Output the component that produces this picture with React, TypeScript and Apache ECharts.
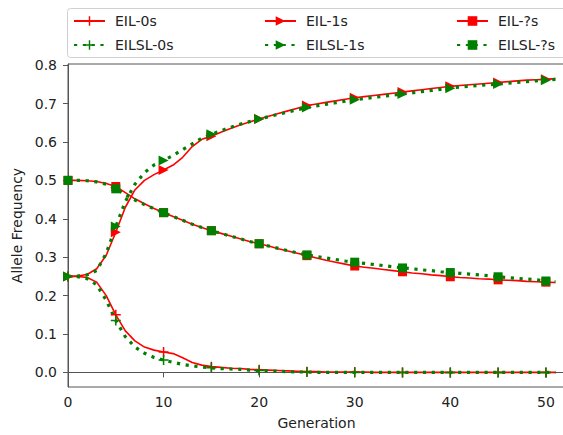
import React, { useEffect, useRef } from "react";
import * as echarts from "echarts";

const generations: number[] = Array.from({ length: 52 }, (_, i) => i);

const eil0s: number[] = [
  0.250, 0.250, 0.247, 0.235, 0.200, 0.150, 0.108, 0.082, 0.066, 0.058,
  0.053, 0.049, 0.038, 0.026, 0.019, 0.015, 0.013, 0.011, 0.010, 0.008,
  0.007, 0.006, 0.005, 0.004, 0.003, 0.002, 0.002, 0.001, 0.001, 0.001,
  0.001, 0.001, 0.000, 0.000, 0.000, 0.000, 0.000, 0.000, 0.000, 0.000,
  0.000, 0.000, 0.000, 0.000, 0.000, 0.000, 0.000, 0.000, 0.000, 0.000,
  0.000, 0.000,
];
const eilsl0s: number[] = [
  0.250, 0.249, 0.244, 0.228, 0.188, 0.135, 0.093, 0.066, 0.050, 0.039,
  0.032, 0.026, 0.021, 0.017, 0.014, 0.012, 0.010, 0.009, 0.008, 0.006,
  0.005, 0.004, 0.003, 0.002, 0.001, 0.001, 0.000, 0.000, 0.000, 0.000,
  0.000, 0.000, 0.000, 0.000, 0.000, 0.000, 0.000, 0.000, 0.000, 0.000,
  0.000, 0.000, 0.000, 0.000, 0.000, 0.000, 0.000, 0.000, 0.000, 0.000,
  0.000, 0.000,
];
const eil1s: number[] = [
  0.250, 0.251, 0.255, 0.270, 0.305, 0.365, 0.430, 0.475, 0.500, 0.515,
  0.527, 0.540, 0.560, 0.588, 0.607, 0.615, 0.625, 0.635, 0.644, 0.652,
  0.660, 0.667, 0.674, 0.681, 0.688, 0.695, 0.699, 0.703, 0.707, 0.711,
  0.715, 0.718, 0.721, 0.724, 0.727, 0.730, 0.733, 0.736, 0.739, 0.742,
  0.745, 0.747, 0.749, 0.751, 0.753, 0.755, 0.757, 0.759, 0.761, 0.762,
  0.763, 0.765,
];
const eilsl1s: number[] = [
  0.250, 0.251, 0.254, 0.265, 0.310, 0.380, 0.445, 0.490, 0.520, 0.540,
  0.552, 0.565, 0.580, 0.595, 0.610, 0.620, 0.629, 0.638, 0.646, 0.653,
  0.660, 0.666, 0.672, 0.678, 0.684, 0.690, 0.694, 0.698, 0.702, 0.706,
  0.710, 0.713, 0.716, 0.719, 0.722, 0.725, 0.728, 0.731, 0.734, 0.737,
  0.740, 0.743, 0.745, 0.747, 0.749, 0.751, 0.753, 0.755, 0.757, 0.759,
  0.761, 0.763,
];
const eilQs: number[] = [
  0.500, 0.500, 0.499, 0.497, 0.492, 0.484, 0.468, 0.452, 0.439, 0.427,
  0.416, 0.406, 0.396, 0.386, 0.377, 0.369, 0.362, 0.355, 0.348, 0.341,
  0.335, 0.329, 0.322, 0.316, 0.310, 0.304, 0.298, 0.292, 0.287, 0.282,
  0.277, 0.274, 0.271, 0.268, 0.265, 0.262, 0.259, 0.257, 0.254, 0.252,
  0.249, 0.247, 0.246, 0.244, 0.243, 0.241, 0.240, 0.239, 0.237, 0.236,
  0.235, 0.234,
];
const eilslQs: number[] = [
  0.500, 0.500, 0.499, 0.496, 0.490, 0.478, 0.463, 0.449, 0.437, 0.426,
  0.416, 0.406, 0.396, 0.386, 0.377, 0.369, 0.362, 0.355, 0.348, 0.341,
  0.335, 0.329, 0.323, 0.317, 0.311, 0.306, 0.302, 0.298, 0.294, 0.290,
  0.287, 0.284, 0.281, 0.278, 0.275, 0.272, 0.270, 0.267, 0.265, 0.262,
  0.260, 0.258, 0.256, 0.254, 0.252, 0.249, 0.247, 0.245, 0.243, 0.241,
  0.238, 0.236,
];

const yTicks: number[] = [0, 0.1, 0.2, 0.3, 0.4, 0.5, 0.6, 0.7, 0.8];
const xTicks: number[] = [0, 10, 20, 30, 40, 50];

const FONT = "DejaVu Sans";
const PLUS = "path://M4.25,0H5.75V4.25H10V5.75H5.75V10H4.25V5.75H0V4.25H4.25Z";

function mk(values: number[]) {
  return values.map((v, i) =>
    i % 5 === 0 ? [generations[i], v] : { value: [generations[i], v], symbol: "none" }
  );
}

function series(name: string, values: number[], green: boolean, symbol: string, size: number, rotate = 0) {
  const color = green ? "#008000" : "#ff0000";
  return {
    name,
    type: "line",
    data: mk(values),
    symbol,
    symbolSize: size,
    symbolRotate: rotate,
    showAllSymbol: true,
    smooth: false,
    itemStyle: { color },
    lineStyle: green
      ? { color, width: 3.2, type: [3.2, 5.6] }
      : { color, width: 1.6 },
    emphasis: { disabled: true },
  };
}

export default function App() {
  const ref = useRef<HTMLDivElement>(null);
  useEffect(() => {
    const chart = echarts.init(ref.current!, null, { renderer: "svg" });
    const legendBase = {
      orient: "vertical",
      top: 14,
      itemWidth: 31,
      itemHeight: 12,
      itemGap: 10,
      padding: 0,
      textStyle: { fontFamily: FONT, fontSize: 14, color: "#222", padding: [0, 0, 0, 5] },
      selectedMode: false,
    };
    chart.setOption({
      animation: false,
      backgroundColor: "#fff",
      textStyle: { fontFamily: FONT },
      grid: {
        left: 68,
        top: 64,
        right: -2,
        bottom: 48,
        show: true,
        borderColor: "#555",
        borderWidth: 1,
        containLabel: false,
        outerBoundsMode: "none",
      },
      legend: [
        { ...legendBase, left: 73, data: ["EIL-0s", "EILSL-0s"] },
        { ...legendBase, left: 264, data: ["EIL-1s", "EILSL-1s"] },
        { ...legendBase, left: 456, data: ["EIL-?s", "EILSL-?s"] },
      ],
      graphic: [
        {
          type: "rect",
          z: 0,
          silent: true,
          shape: { x: 67.5, y: 8.5, width: 520, height: 49, r: 3 },
          style: { fill: "#fff", stroke: "#d0d0d0", lineWidth: 1 },
        },
      ],
      xAxis: {
        type: "value",
        min: 0,
        max: 52,
        interval: 10,
        name: "Generation",
        nameLocation: "middle",
        nameGap: 29,
        nameTextStyle: { fontFamily: FONT, fontSize: 14, color: "#222" },
        axisLine: { show: true, lineStyle: { color: "#555", width: 1 } },
        axisTick: { show: true, length: 5, lineStyle: { color: "#555" }, customValues: xTicks },
        axisLabel: { fontFamily: FONT, fontSize: 14, color: "#222", margin: 8, customValues: xTicks },
        splitLine: { show: false },
      },
      yAxis: {
        type: "value",
        min: -0.038,
        max: 0.803,
        name: "Allele Frequency",
        nameLocation: "middle",
        nameGap: 44,
        nameTextStyle: { fontFamily: FONT, fontSize: 14, color: "#222" },
        axisLine: { show: true, lineStyle: { color: "#555", width: 1 } },
        axisTick: { show: true, length: 5, lineStyle: { color: "#555" }, customValues: yTicks },
        axisLabel: {
          fontFamily: FONT,
          fontSize: 14,
          color: "#222",
          margin: 11,
          customValues: yTicks,
          formatter: (v: number) => v.toFixed(1),
        },
        splitLine: { show: false },
      },
      series: [
        series("EIL-0s", eil0s, false, PLUS, 10),
        series("EILSL-0s", eilsl0s, true, PLUS, 10),
        series("EIL-1s", eil1s, false, "triangle", 10, -90),
        series("EILSL-1s", eilsl1s, true, "triangle", 10, -90),
        series("EIL-?s", eilQs, false, "rect", 9),
        series("EILSL-?s", eilslQs, true, "rect", 9),
      ],
    });
    return () => chart.dispose();
  }, []);
  return (
    <div
      ref={ref}
      style={{ position: "fixed", left: 0, top: 0, width: 563, height: 435 }}
    />
  );
}
